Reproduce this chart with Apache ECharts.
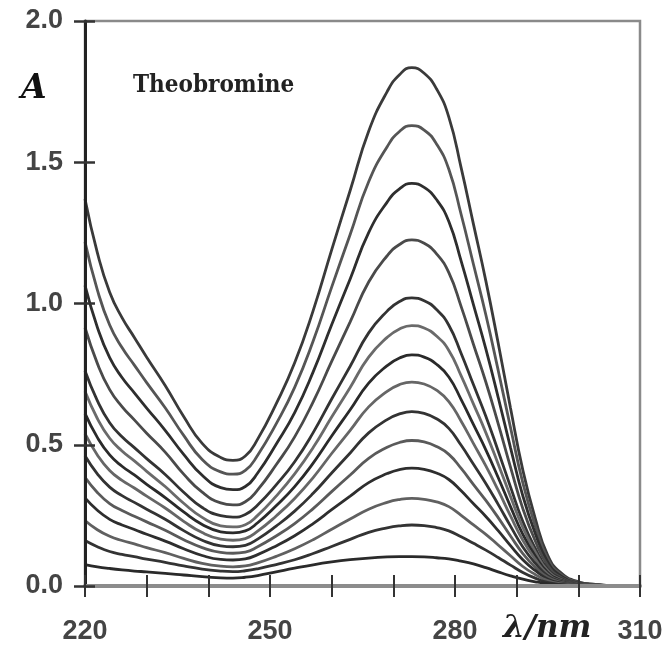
<!DOCTYPE html>
<html>
<head>
<meta charset="utf-8">
<script src="https://cdn.jsdelivr.net/npm/echarts@6/dist/echarts.min.js"></script>
<style>html,body{margin:0;padding:0;background:#fff;}#chart{width:668px;height:655px;}</style>
</head>
<body>
<div id="chart"></div>
<script>
// Wavelength grid (nm)
const wavelengths = [220,222,224,226,228,230,233,236,239,242,244,246,248,251,254,257,260,263,266,269,271,273,275,277,279,281,283,285,287,289,291,293,295,297,300,303,306];
// Tick labels
const xTickLabels = [220,250,280,310];
const yTickLabels = [0.0,0.5,1.0,1.5,2.0];
const title = 'Theobromine';
// Absorbance curves (highest to lowest concentration)
const a1  = [1.370,1.180,1.040,0.950,0.880,0.810,0.710,0.600,0.505,0.455,0.445,0.460,0.520,0.645,0.790,0.975,1.190,1.400,1.610,1.750,1.810,1.835,1.815,1.760,1.660,1.480,1.280,1.080,0.860,0.630,0.410,0.240,0.110,0.050,0.015,0.005,0];
const a2  = [1.218,1.048,0.924,0.844,0.782,0.720,0.631,0.533,0.448,0.404,0.396,0.409,0.463,0.574,0.703,0.867,1.058,1.244,1.431,1.555,1.609,1.630,1.614,1.565,1.475,1.315,1.138,0.960,0.764,0.561,0.365,0.214,0.098,0.044,0.013,0.005,0];
const a3  = [1.064,0.916,0.808,0.738,0.684,0.630,0.551,0.466,0.392,0.348,0.341,0.352,0.400,0.502,0.614,0.758,0.925,1.087,1.251,1.359,1.406,1.425,1.411,1.368,1.290,1.150,0.995,0.839,0.668,0.490,0.319,0.187,0.086,0.038,0.011,0.004,0];
const a4  = [0.915,0.788,0.695,0.635,0.588,0.541,0.474,0.396,0.332,0.294,0.287,0.298,0.340,0.429,0.528,0.652,0.795,0.935,1.076,1.169,1.209,1.225,1.213,1.176,1.109,0.989,0.855,0.722,0.575,0.421,0.274,0.160,0.074,0.033,0.010,0.004,0];
const a5  = [0.762,0.656,0.578,0.528,0.490,0.451,0.395,0.332,0.278,0.249,0.244,0.253,0.287,0.358,0.440,0.543,0.662,0.778,0.896,0.973,1.007,1.020,1.010,0.979,0.923,0.823,0.712,0.601,0.478,0.351,0.228,0.134,0.061,0.028,0.008,0.003,0];
const a6  = [0.689,0.593,0.523,0.478,0.443,0.406,0.352,0.293,0.243,0.213,0.209,0.217,0.250,0.318,0.397,0.490,0.598,0.703,0.810,0.880,0.910,0.922,0.913,0.885,0.834,0.744,0.644,0.543,0.432,0.317,0.207,0.121,0.055,0.025,0.007,0.003,0];
const a7  = [0.611,0.526,0.464,0.424,0.393,0.360,0.313,0.262,0.218,0.192,0.188,0.195,0.224,0.284,0.352,0.435,0.531,0.624,0.718,0.780,0.807,0.818,0.810,0.785,0.740,0.660,0.571,0.482,0.384,0.281,0.183,0.107,0.049,0.022,0.007,0.002,0];
const a8  = [0.539,0.464,0.409,0.374,0.347,0.318,0.276,0.229,0.189,0.166,0.162,0.168,0.194,0.248,0.310,0.384,0.469,0.551,0.634,0.689,0.713,0.722,0.715,0.693,0.653,0.583,0.504,0.425,0.339,0.248,0.162,0.095,0.043,0.019,0.006,0.002,0];
const a9  = [0.461,0.397,0.350,0.320,0.296,0.272,0.236,0.196,0.162,0.142,0.139,0.144,0.166,0.212,0.265,0.328,0.400,0.471,0.542,0.589,0.609,0.617,0.611,0.592,0.558,0.498,0.431,0.363,0.289,0.212,0.138,0.081,0.037,0.017,0.005,0.002,0];
const a10 = [0.385,0.331,0.292,0.267,0.247,0.227,0.197,0.164,0.136,0.119,0.116,0.120,0.139,0.177,0.221,0.274,0.334,0.393,0.452,0.491,0.508,0.515,0.510,0.494,0.466,0.416,0.359,0.303,0.242,0.177,0.115,0.067,0.031,0.014,0.004,0.002,0];
const a11 = [0.312,0.268,0.236,0.216,0.200,0.183,0.159,0.132,0.108,0.094,0.092,0.096,0.111,0.142,0.178,0.221,0.270,0.318,0.366,0.398,0.412,0.417,0.413,0.400,0.377,0.337,0.291,0.246,0.196,0.143,0.093,0.055,0.025,0.011,0.003,0.001,0];
const a12 = [0.232,0.199,0.176,0.161,0.149,0.136,0.118,0.098,0.080,0.070,0.068,0.071,0.082,0.105,0.132,0.164,0.201,0.237,0.272,0.296,0.306,0.310,0.307,0.298,0.281,0.250,0.216,0.183,0.145,0.107,0.069,0.041,0.019,0.008,0.002,0.001,0];
const a13 = [0.161,0.139,0.122,0.112,0.104,0.095,0.084,0.071,0.060,0.053,0.051,0.054,0.061,0.076,0.093,0.115,0.140,0.165,0.190,0.206,0.213,0.216,0.214,0.207,0.195,0.174,0.151,0.127,0.101,0.074,0.048,0.028,0.013,0.006,0.002,0.001,0];
const a14 = [0.076,0.068,0.062,0.057,0.053,0.050,0.045,0.039,0.033,0.029,0.028,0.031,0.037,0.050,0.063,0.075,0.085,0.093,0.099,0.103,0.104,0.104,0.103,0.100,0.096,0.088,0.078,0.065,0.050,0.036,0.024,0.015,0.008,0.004,0.001,0,0];

const curves = [a1,a2,a3,a4,a5,a6,a7,a8,a9,a10,a11,a12,a13,a14];
const lineColors = ['#3a3a3a','#555555','#2e2e2e','#4a4a4a','#333333','#6a6a6a','#2a2a2a','#666666','#333333','#5a5a5a','#2e2e2e','#606060','#333333','#2a2a2a'];

const chart = echarts.init(document.getElementById('chart'), null, {renderer:'canvas'});
const labelFont = 'Liberation Sans';
const series = curves.map((c, k) => ({
  type: 'line',
  xAxisIndex: 0, yAxisIndex: 0,
  data: wavelengths.map((w, i) => [w, c[i]]),
  showSymbol: false,
  symbol: 'none',
  smooth: 0.5,
  lineStyle: { color: lineColors[k], width: 2.8 },
  silent: true,
  z: 2
}));

const option = {
  animation: false,
  backgroundColor: '#ffffff',
  grid: { left: 85, right: 28, top: 21, bottom: 69, show: true, borderColor: '#8a8a8a', borderWidth: 2.5, containLabel: false },
  xAxis: [
    {
      type: 'value', min: 220, max: 310, interval: 10,
      axisLine: { show: true, onZero: false, lineStyle: { color: '#8c8c8c', width: 4 } },
      axisTick: { show: true, inside: false, length: 11, lineStyle: { color: '#333', width: 2 } },
      axisLabel: {
        show: true, margin: 32, fontSize: 27, fontWeight: 'bold', fontFamily: labelFont, color: '#444',
        formatter: v => (xTickLabels.indexOf(v) >= 0 ? String(v) : '')
      },
      splitLine: { show: false }, z: 3
    },
    {
      type: 'value', min: 220, max: 310, interval: 10, position: 'bottom',
      axisLine: { show: false, onZero: false },
      axisTick: { show: true, inside: true, length: 11, lineStyle: { color: '#333', width: 2 } },
      axisLabel: { show: false }, splitLine: { show: false }, z: 3
    }
  ],
  yAxis: [
    {
      type: 'value', min: 0, max: 2, interval: 0.5,
      axisLine: { show: true, onZero: false, lineStyle: { color: '#222', width: 3 } },
      axisTick: { show: true, inside: false, length: 11, lineStyle: { color: '#333', width: 2.5 } },
      axisLabel: {
        show: true, margin: 22, fontSize: 27, fontWeight: 'bold', fontFamily: labelFont, color: '#444',
        formatter: v => (yTickLabels.indexOf(v) >= 0 ? v.toFixed(1) : '')
      },
      splitLine: { show: false }, z: 3
    },
    {
      type: 'value', min: 0, max: 2, interval: 0.5, position: 'left',
      axisLine: { show: false, onZero: false },
      axisTick: { show: true, inside: true, length: 10, lineStyle: { color: '#333', width: 2.5 } },
      axisLabel: { show: false }, splitLine: { show: false }, z: 3
    }
  ],
  graphic: [
    { type: 'text', left: 21, top: 73, style: { text: 'A', font: 'bold italic 33px "DejaVu Serif"', fill: '#111' } },
    { type: 'text', left: 133, top: 74, style: { text: title, font: 'bold 24px "DejaVu Serif Condensed", "DejaVu Serif"', fill: '#222' } },
    { type: 'text', left: 503, top: 613, style: { text: 'λ/nm', font: 'bold italic 31px "DejaVu Serif"', fill: '#222' } }
  ],
  series: series
};
chart.setOption(option);
</script>
</body>
</html>
